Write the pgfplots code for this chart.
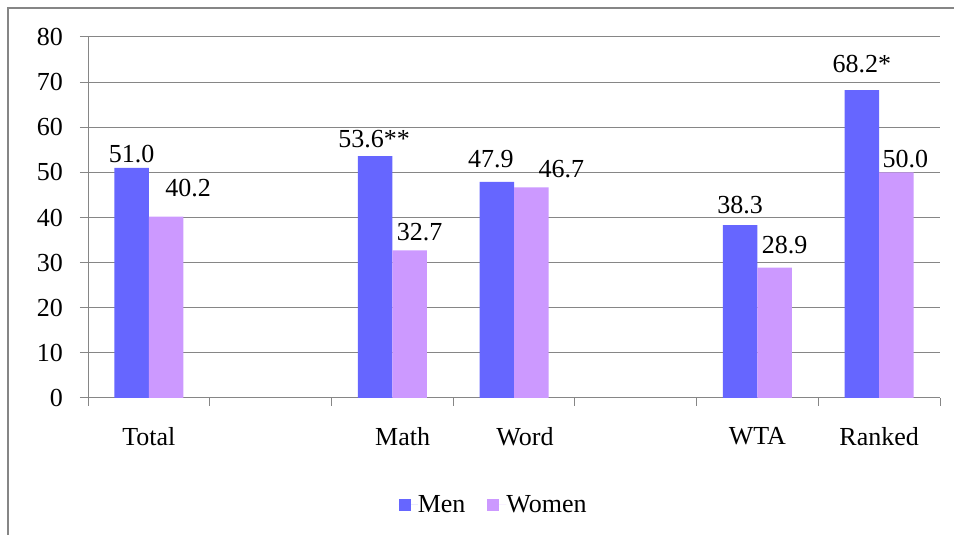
\documentclass[border=0pt]{standalone}
\usepackage{pgfplots}
\usepackage{pgfplotstable}
\pgfplotsset{compat=1.18}
\usepackage{fontspec}
\setmainfont{Liberation Serif}
\definecolor{menc}{HTML}{6666FF}
\definecolor{womenc}{HTML}{CC99FF}
\definecolor{gridgray}{HTML}{868686}
\newcommand{\cfont}{\fontsize{26bp}{31bp}\selectfont}
\pgfplotstableread{
x y dx dy lab
0 51.0 0 5 51.0
2 53.6 -1 9 53.6**
3 47.9 -6 14 47.9
5 38.3 0 12 38.3
6 68.2 0 18 68.2*
}\men
\pgfplotstableread{
x y dx dy lab
0 40.2 22 20 40.2
2 32.7 10 10 32.7
3 46.7 30 10 46.7
5 28.9 10 14.5 28.9
6 50.0 9 5 50.0
}\women
\begin{document}
\begin{tikzpicture}
\useasboundingbox (0,0) rectangle (954bp,535bp);
\fill[white] (0,0) rectangle (954bp,535bp);
\draw[gridgray, line width=1.5bp] (8bp,0) -- (8bp,527bp) -- (954bp,527bp);
\begin{axis}[
  at={(88bp,137bp)}, anchor=south west,
  scale only axis, width=852bp, height=361bp,
  xmin=-0.5, xmax=6.5, ymin=0, ymax=80,
  axis lines*=left,
  axis line style={draw=gridgray, line width=1bp, -},
  ybar=0pt, bar width=34.5bp,
  xtick={-0.5,0.5,...,6.5}, xticklabels={},
  extra x ticks={0,2.085,3.09,5,6},
  extra x tick labels={Total,Math,Word,WTA,Ranked},
  extra x tick style={major tick length=0pt, grid=none,
    xticklabel style={anchor=north, inner sep=0pt, yshift=-29bp, font=\cfont}},
  ytick={0,10,...,80},
  tick align=outside, major tick length=8bp,
  tick style={draw=gridgray, line width=1bp},
  ymajorgrids, grid style={draw=gridgray, line width=1bp},
  /pgf/number format/assume math mode=true,
  yticklabel style={anchor=east, inner sep=0pt, xshift=-17bp, font=\cfont},
  point meta=explicit symbolic,
  nodes near coords,
  legend style={at={(0.475,-0.296)}, anchor=center, draw=none, fill=none,
    legend columns=-1, font=\cfont,
    nodes={inner sep=0pt, anchor=west},
    /tikz/every even column/.append style={column sep=22bp}},
  legend image code/.code={\fill[#1, draw=none] (0bp,-6bp) rectangle (12bp,6bp); \path (0bp,0bp) -- (19bp,0bp);},
]
\addplot+[fill=menc, draw=none,
  visualization depends on={\thisrow{dx} \as \dx},
  visualization depends on={\thisrow{dy} \as \dy},
  every node near coord/.append style={anchor=base, inner sep=0pt, xshift=\dx bp, yshift=\dy bp, font=\cfont, text=black}]
  table[x=x, y=y, meta=lab] {\men};
\addplot+[fill=womenc, draw=none,
  visualization depends on={\thisrow{dx} \as \dx},
  visualization depends on={\thisrow{dy} \as \dy},
  every node near coord/.append style={anchor=base, inner sep=0pt, xshift=\dx bp, yshift=\dy bp, font=\cfont, text=black}]
  table[x=x, y=y, meta=lab] {\women};
\legend{Men,Women}
\end{axis}
\end{tikzpicture}
\end{document}
